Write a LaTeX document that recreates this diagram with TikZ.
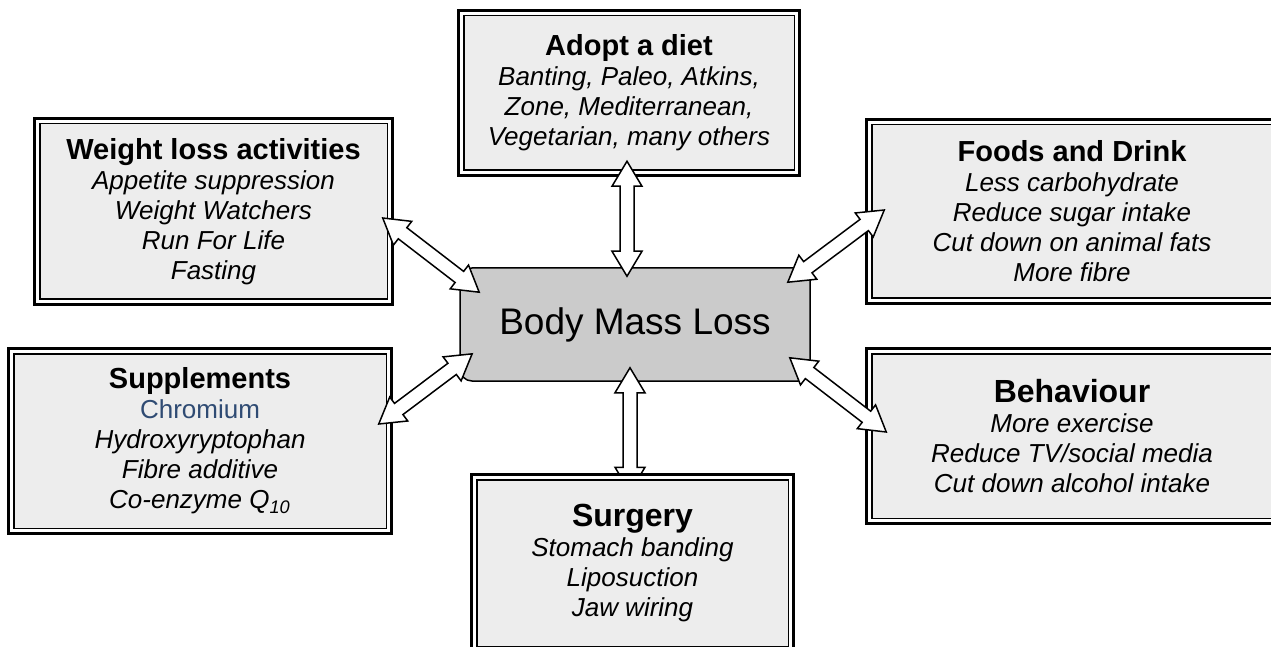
\documentclass[tikz,border=0pt]{standalone}
\usepackage{fontspec}
\setmainfont{Liberation Sans}
\usetikzlibrary{calc}

\definecolor{boxgray}{HTML}{EDEDED}
\definecolor{hubgray}{HTML}{CBCBCB}
\definecolor{chromblue}{HTML}{2F4B73}

\pgfdeclarelayer{front}
\pgfsetlayers{main,front}

\newcommand{\ttl}[1]{{\fontsize{14.5}{15}\selectfont\bfseries\upshape #1}}
\newcommand{\bigttl}[1]{{\fontsize{16}{15}\selectfont\bfseries\upshape #1}}

\begin{document}
\begin{tikzpicture}[x=0.5pt,y=-0.5pt,
  box/.style={rectangle,draw,line width=0.75pt,double=white,double distance=1.5pt,
              preaction={draw,line width=4.5pt},fill=boxgray,align=center,inner sep=0pt,
              font=\fontsize{13}{15}\selectfont\itshape},
  hub/.style={rectangle,draw,rounded corners=6pt,line width=0.75pt,fill=hubgray,
              minimum width=175pt,minimum height=56.5pt,font=\fontsize{18.5}{22}\selectfont},
  link/.style={draw,fill=white,line width=0.75pt,line join=miter,
    to path={let \p1=($(\tikztotarget)-(\tikztostart)$),\n1={veclen(\x1,\y1)},
             \n2={atan2(\y1,\x1)} in
             {[shift={(\tikztostart)},rotate=\n2]
              (0pt,0pt) -- (12.5pt,7.5pt) -- (12.5pt,3.5pt) -- (\n1*1pt-12.5pt,3.5pt)
              -- (\n1*1pt-12.5pt,7.5pt) -- (\n1*1pt,0pt) -- (\n1*1pt-12.5pt,-7.5pt)
              -- (\n1*1pt-12.5pt,-3.5pt) -- (12.5pt,-3.5pt) -- (12.5pt,-7.5pt) -- cycle}}}]

\useasboundingbox (0,0) rectangle (1271,647);

\node[hub] (hub) at (635,324.5) {Body Mass Loss};

\node[box,minimum width=167.5pt,minimum height=79.5pt] (diet) at (629,93)
  {\ttl{Adopt a diet}\\Banting, Paleo, Atkins,\\Zone, Mediterranean,\\Vegetarian, many others};
\node[box,minimum width=176pt,minimum height=90pt] (weight) at (213.5,211.5)
  {\ttl{Weight loss activities}\\Appetite suppression\\Weight Watchers\\Run For Life\\Fasting};
\node[box,minimum width=202.5pt,minimum height=89pt] (foods) at (1072,211.5)
  {\ttl{Foods and Drink}\\Less carbohydrate\\Reduce sugar intake\\Cut down on animal fats\\More fibre};
\node[box,minimum width=188.5pt,minimum height=89.5pt] (supp) at (200,441)
  {\ttl{Supplements}\\{\upshape\color{chromblue}Chromium}\\Hydroxyryptophan\\Fibre additive\\Co-enzyme Q\textsubscript{10}};
\node[box,minimum width=202.5pt,minimum height=84.5pt] (behav) at (1072,436)
  {\bigttl{Behaviour}\\More exercise\\Reduce TV/social media\\Cut down alcohol intake};
\begin{pgfonlayer}{front}
\node[box,minimum width=158pt,minimum height=85.5pt] (surg) at (632.5,563)
  {\bigttl{Surgery}\\Stomach banding\\Liposuction\\Jaw wiring};
\end{pgfonlayer}

% two-way arrows
\draw[link] ([shift={(-2,-12)}]diet.south) to ([shift={(-8,9)}]hub.north);
\draw[link] ([shift={(-7.5,6.5)}]weight.east) to ([shift={(20,25)}]hub.north west);
\draw[link] ([shift={(15.5,-1.5)}]foods.west) to ([shift={(-23,15)}]hub.north east);
\draw[link] ([shift={(-10.5,-17)}]supp.east) to ([shift={(13,-28)}]hub.south west);
\draw[link] ([shift={(17.5,-4)}]behav.west) to ([shift={(-21,-24)}]hub.south east);
\draw[link] ([shift={(-5,-14)}]hub.south) to ([shift={(-2.5,15.5)}]surg.north);
\end{tikzpicture}
\end{document}
